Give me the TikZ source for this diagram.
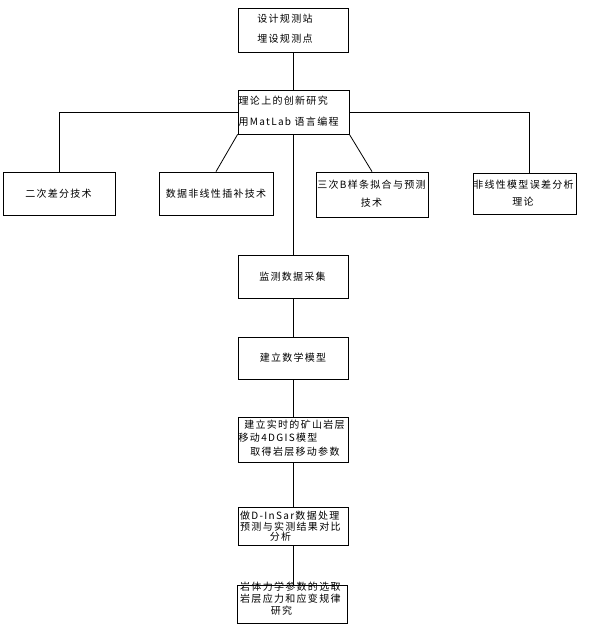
\documentclass[tikz,border=0pt]{standalone}
\usepackage{fontspec}
\setmainfont{Noto Sans CJK SC}[LetterSpace=13]
\begin{document}
\begin{tikzpicture}[x=1pt,y=-1pt,
  box/.style={draw, line width=0.8pt, inner sep=0pt, rectangle},
  txt/.style={inner sep=0pt, font=\fontsize{10}{10}\selectfont},
  conn/.style={draw, line width=0.8pt}]
\useasboundingbox[fill=white] (0,0) rectangle (589,631);
% boxes
\node[box, minimum width=110pt, minimum height=44pt] (b1) at (293,30) {};
\node[box, minimum width=111pt, minimum height=44pt] (b2) at (293.5,112) {};
\node[box, minimum width=112pt, minimum height=43pt] (b3) at (59,193.5) {};
\node[box, minimum width=114pt, minimum height=43pt] (b4) at (216,193.5) {};
\node[box, minimum width=112pt, minimum height=45pt] (b5) at (372,194.5) {};
\node[box, minimum width=103pt, minimum height=41pt] (b6) at (524.5,193.5) {};
\node[box, minimum width=110pt, minimum height=43pt] (b7) at (293,276.5) {};
\node[box, minimum width=110pt, minimum height=42pt] (b8) at (293,358) {};
\node[box, minimum width=110pt, minimum height=45pt] (b9) at (293,439.5) {};
\node[box, minimum width=110pt, minimum height=38pt] (b10) at (293,526) {};
\node[box, minimum width=110pt, minimum height=38pt] (b11) at (292,604) {};
% texts
\node[txt] (t1a) at (285,19) {设计规测站};
\node[txt] (t1b) at (285,39) {埋设规测点};
\node[txt, anchor=west] (t2a) at (238.5,101) {理论上的创新研究};
\node[txt, anchor=west] (t2b) at (238.5,122) {用MatLab 语言编程};
\node[txt] (t3) at (58.5,194) {二次差分技术};
\node[txt] (t4) at (216,194) {数据非线性插补技术};
\node[txt] (t5a) at (371.5,185) {三次B样条拟合与预测};
\node[txt] (t5b) at (371.5,203) {技术};
\node[txt] (t6a) at (523.5,185) {非线性模型误差分析};
\node[txt] (t6b) at (523,202) {理论};
\node[txt] (t7) at (292.5,277) {监测数据采集};
\node[txt] (t8) at (293,358) {建立数学模型};
\node[txt] (t9a) at (294.5,425) {建立实时的矿山岩层};
\node[txt, anchor=west] (t9b) at (238.5,438) {移动4DGIS模型};
\node[txt] (t9c) at (295,452) {取得岩层移动参数};
\node[txt, anchor=west] (t10a) at (240,516) {做D-InSar数据处理};
\node[txt, anchor=west] (t10b) at (240,527) {预测与实测结果对比};
\node[txt] (t10c) at (280.5,537) {分析};
\node[txt, anchor=west] (t11a) at (240,587) {岩体力学参数的选取};
\node[txt, anchor=west] (t11b) at (240,599) {岩层应力和应变规律};
\node[txt] (t11c) at (281.5,611) {研究};
% connectors
\draw[conn] (b1.south) -- (b1.south |- b2.north);
\draw[conn] (b2.west) -| (b3.north);
\draw[conn] (b2.south west) -- (b4.north);
\draw[conn] (b1.south |- b2.south) -- (b1.south |- b7.north);
\draw[conn] (b2.south east) -- (b5.north);
\draw[conn] (b2.east) -| ([xshift=4.5pt]b6.north);
\draw[conn] (b7.south) -- (b8.north);
\draw[conn] (b8.south) -- (b9.north);
\draw[conn] (b9.south) -- (b10.north);
\draw[conn] (b10.south) -- (b10.south |- b11.north);
\end{tikzpicture}
\end{document}
